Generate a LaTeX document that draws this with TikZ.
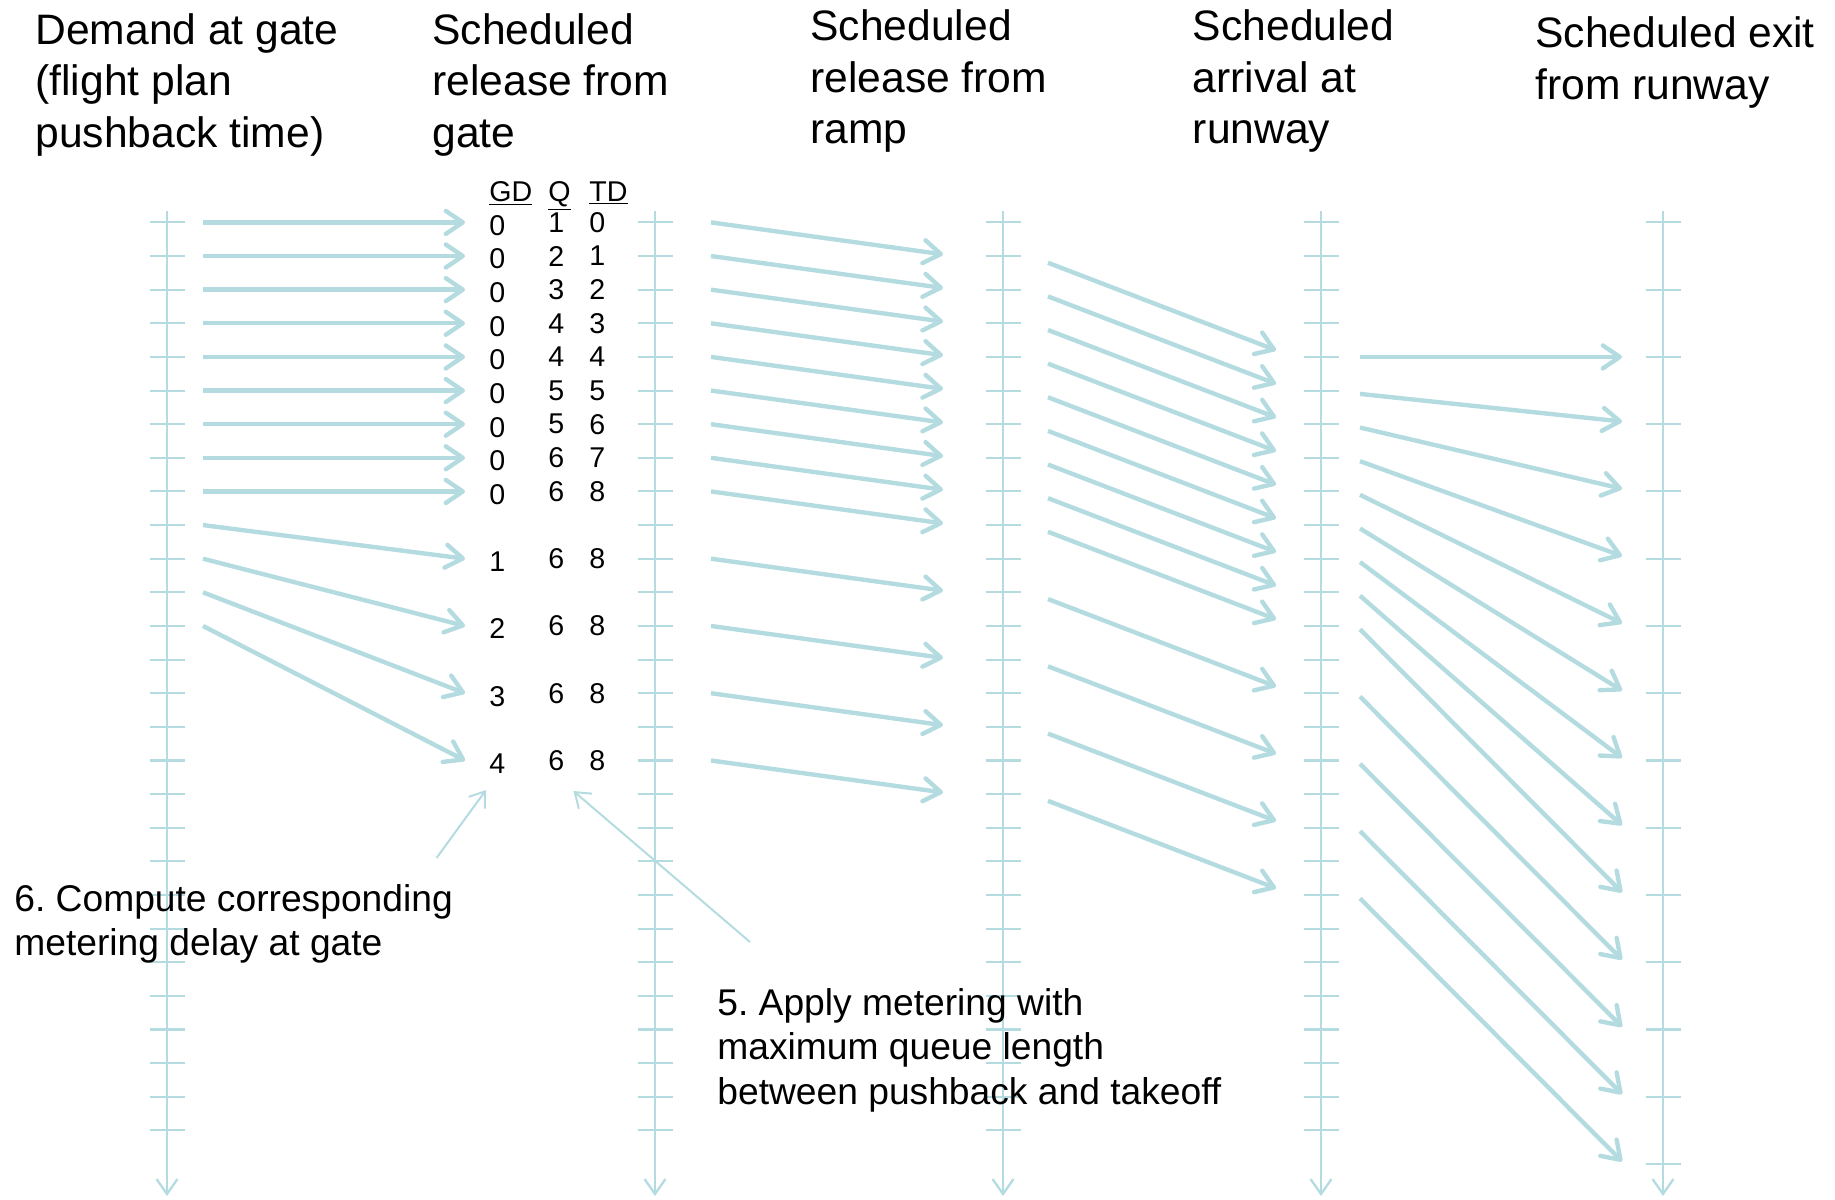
\documentclass[tikz,border=0pt]{standalone}
\usepackage{fontspec}
\setmainfont{Liberation Sans}
\usetikzlibrary{arrows.meta}
\definecolor{flowcyan}{HTML}{B4DCE0}
\frenchspacing

\begin{document}
\begin{tikzpicture}[
  x=0.5pt,y=-0.5pt,
  declare function={ty(\k)=222.4+33.63*\k;},
  every node/.style={inner sep=0pt,anchor=north west,align=left},
  colhead/.style={font=\fontsize{21.3}{25.75}\selectfont},
  remark/.style={font=\fontsize{18.6}{22.2}\selectfont},
  tabcell/.style={font=\fontsize{14.3}{17}\selectfont,anchor=west},
  timeline/.style={draw=flowcyan,line width=1.15pt,-{Straight Barb[length=7.5pt,width=10.5pt]}},
  tickmark/.style={draw=flowcyan,line width=1.05pt},
  flow/.style={draw=flowcyan,line width=2.2pt,-{Straight Barb[length=8.5pt,width=11.5pt,round]}},
  pointer/.style={draw=flowcyan,line width=1pt,-{Straight Barb[length=7pt,width=10pt]}}
]
\useasboundingbox (0,0) rectangle (1835,1199);

% column titles
\node[colhead] (demand) at (35,12.8) {Demand at gate\\(flight plan\\pushback time)};
\node[colhead] (gaterel) at (432,12.8) {Scheduled\\release from\\gate};
\node[colhead] (ramprel) at (810,9.3) {Scheduled\\release from\\ramp};
\node[colhead] (rwyarr) at (1192.5,9.3) {Scheduled\\arrival at\\runway};
\node[colhead] (rwyexit) at (1535,16.3) {Scheduled exit\\from runway};

% time axes
\foreach \ax/\xa in {1/167,2/655,3/1003,4/1321,5/1663} {
  \coordinate (top\ax) at (\xa,211);
  \coordinate (bot\ax) at (\xa,1196);
  \draw[timeline] (top\ax) -- (bot\ax);
}
\foreach \xa in {167,655,1003,1321}
  \foreach \k in {0,...,27}
    \draw[tickmark] (\xa-17.5,{ty(\k)}) -- ++(35,0);
\foreach \k in {0,2,...,28}
  \draw[tickmark] (1663-17.5,{ty(\k)}) -- ++(35,0);

% table header
\node[tabcell,anchor=base west] (gdhead) at (489,201) {\underline{GD}};
\node[tabcell,anchor=base west] (qhead) at (548,201) {\underline{Q}};
\node[tabcell,anchor=base west] (tdhead) at (589,201) {\underline{TD}};

% flights: demand / gate release / queue / takeoff delay
\foreach \dem/\gt/\qu/\tdl [count=\i from 0] in {0/0/1/0,1/1/2/1,2/2/3/2,3/3/4/3,4/4/4/4,5/5/5/5,6/6/5/6,7/7/6/7,8/8/6/8,9/10/6/8,10/12/6/8,11/14/6/8,12/16/6/8} {
  \pgfmathtruncatemacro\gd{\gt-\dem}
  \pgfmathsetmacro\late{min(\tdl,1)}
  \coordinate (dem\i) at (203,{ty(\dem)});
  \coordinate (gin\i) at (465,{ty(\gt)});
  \coordinate (gout\i) at (711,{ty(\gt)});
  \coordinate (rin\i) at (943,{ty(\gt+0.95)});
  \coordinate (rout\i) at (1048,{ty(\gt+1.2)});
  \coordinate (ain\i) at (1276,{ty(\gt+3.8)});
  \coordinate (aout\i) at (1360,{ty(\gt+4+0.1*\late)});
  \coordinate (xin\i) at (1622,{ty(\gt+4+\tdl-0.08*\late)});
  \draw[flow] (dem\i) -- (gin\i);
  \draw[flow] (gout\i) -- (rin\i);
  \draw[flow] (rout\i) -- (ain\i);
  \draw[flow] (aout\i) -- (xin\i);
  \node[tabcell] (gd\i) at (489,{ty(\gt)+3}) {\gd};
  \node[tabcell] (q\i) at (548,{ty(\gt)}) {\qu};
  \node[tabcell] (td\i) at (589,{ty(\gt)}) {\tdl};
}

% notes
\node[remark] (gatenote) at (14,883.8) {6. Compute corresponding\\metering delay at gate};
\node[remark] (meternote) at (717,988) {5. Apply metering with\\maximum queue length\\between pushback and takeoff};
\coordinate (gatetail) at (436.5,858);
\coordinate (gdtip) at (486,790);
\coordinate (metertail) at (750,942);
\coordinate (qtip) at (573.4,791);
\draw[pointer] (gatetail) -- (gdtip);
\draw[pointer] (metertail) -- (qtip);
\end{tikzpicture}
\end{document}
